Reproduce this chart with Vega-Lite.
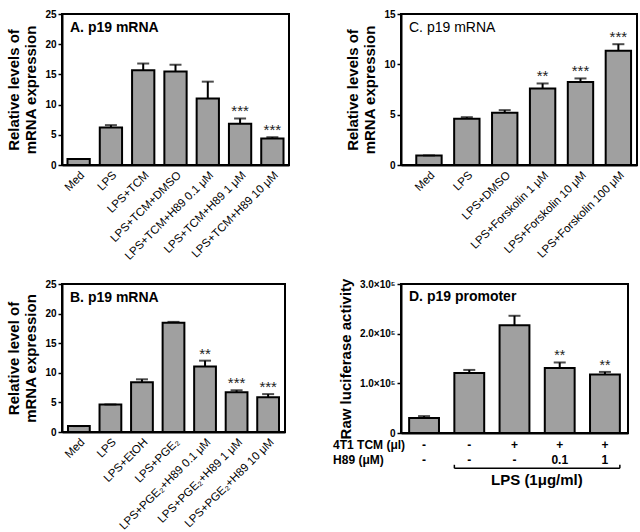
{
  "$schema": "https://vega.github.io/schema/vega-lite/v6.json",
  "background": "white",
  "padding": {"left": 5, "top": 8, "right": 5, "bottom": 0},
  "columns": 2,
  "spacing": {"row": 14, "column": 42},
  "config": {
    "font": "Liberation Sans",
    "view": {"stroke": "black", "strokeWidth": 2},
    "axis": {"grid": false, "domainColor": "black", "domainWidth": 2, "tickColor": "black", "tickWidth": 1.5, "labelColor": "black", "titleColor": "black", "labelFont": "Liberation Sans", "titleFont": "Liberation Sans", "labelOverlap": false, "labelFlush": false},
    "axisY": {"labelFontWeight": "bold", "labelFontSize": 10, "tickSize": 4, "titleFontSize": 15, "titleFontWeight": "bold", "titlePadding": 6, "labelPadding": 2},
    "axisX": {"labelAngle": -45, "labelFontSize": 11.5, "ticks": false, "title": null, "labelPadding": 4}
  },
  "datasets": {
    "A": [
      {"g": "Med", "v": 1.0, "err": 1.0, "sig": ""},
      {"g": "LPS", "v": 6.2, "err": 6.6, "sig": ""},
      {"g": "LPS+TCM", "v": 15.7, "err": 16.8, "sig": ""},
      {"g": "LPS+TCM+DMSO", "v": 15.5, "err": 16.6, "sig": ""},
      {"g": "LPS+TCM+H89 0.1 μM", "v": 11.0, "err": 13.8, "sig": ""},
      {"g": "LPS+TCM+H89 1 μM", "v": 6.85, "err": 7.7, "sig": "***"},
      {"g": "LPS+TCM+H89 10 μM", "v": 4.4, "err": 4.6, "sig": "***"}
    ],
    "C": [
      {"g": "Med", "v": 0.95, "err": 0.95, "sig": ""},
      {"g": "LPS", "v": 4.6, "err": 4.75, "sig": ""},
      {"g": "LPS+DMSO", "v": 5.2, "err": 5.45, "sig": ""},
      {"g": "LPS+Forskolin 1 μM", "v": 7.6, "err": 8.1, "sig": "**"},
      {"g": "LPS+Forskolin 10 μM", "v": 8.25, "err": 8.6, "sig": "***"},
      {"g": "LPS+Forskolin 100 μM", "v": 11.35, "err": 12.0, "sig": "***"}
    ],
    "B": [
      {"g": "Med", "v": 1.0, "err": 1.0, "sig": ""},
      {"g": "LPS", "v": 4.65, "err": 4.65, "sig": ""},
      {"g": "LPS+EtOH", "v": 8.4, "err": 8.9, "sig": ""},
      {"g": "LPS+PGE₂", "v": 18.45, "err": 18.6, "sig": ""},
      {"g": "LPS+PGE₂+H89 0.1 μM", "v": 11.05, "err": 12.05, "sig": "**"},
      {"g": "LPS+PGE₂+H89 1 μM", "v": 6.7, "err": 7.05, "sig": "***"},
      {"g": "LPS+PGE₂+H89 10 μM", "v": 5.85, "err": 6.4, "sig": "***"}
    ],
    "D": [
      {"g": "1", "v": 30000, "err": 34000, "sig": "", "tcm": "-", "h89": "-"},
      {"g": "2", "v": 121000, "err": 127000, "sig": "", "tcm": "-", "h89": "-"},
      {"g": "3", "v": 217000, "err": 236000, "sig": "", "tcm": "+", "h89": "-"},
      {"g": "4", "v": 131000, "err": 142000, "sig": "**", "tcm": "+", "h89": "0.1"},
      {"g": "5", "v": 118000, "err": 123000, "sig": "**", "tcm": "+", "h89": "1"}
    ]
  },
  "concat": [
    {
      "width": 227, "height": 151,
      "data": {"name": "A"},
      "title": {"text": "A. p19 mRNA", "anchor": "start", "frame": "group", "dx": 8, "dy": 30, "fontSize": 14, "fontWeight": "bold", "color": "black"},
      "encoding": {
        "x": {"field": "g", "type": "nominal", "sort": null, "scale": {"paddingInner": 0.31, "paddingOuter": 0.17}, "axis": {"title": null}},
        "y": {"field": "v", "type": "quantitative", "scale": {"domain": [0, 25], "nice": false}, "axis": {"values": [0, 5, 10, 15, 20, 25], "tickCount": 6, "title": ["Relative levels of", "mRNA expression"]}}
      },
      "layer": [
        {"mark": {"type": "bar", "fill": "#a0a0a0", "stroke": "black", "strokeWidth": 2}},
        {"mark": {"type": "rule", "strokeWidth": 2, "color": "black"}, "encoding": {"y2": {"field": "err"}}},
        {"mark": {"type": "tick", "thickness": 2, "size": 12, "color": "black"}, "encoding": {"y": {"field": "err", "type": "quantitative", "axis": {"values": [0, 5, 10, 15, 20, 25], "tickCount": 6, "title": ["Relative levels of", "mRNA expression"]}}}},
        {"mark": {"type": "text", "dy": -2, "fontSize": 15, "baseline": "alphabetic", "color": "#222"}, "encoding": {"y": {"field": "err", "type": "quantitative", "axis": {"values": [0, 5, 10, 15, 20, 25], "tickCount": 6, "title": ["Relative levels of", "mRNA expression"]}}, "text": {"field": "sig"}}}
      ]
    },
    {
      "width": 236, "height": 151,
      "data": {"name": "C"},
      "title": {"text": "C. p19 mRNA", "anchor": "start", "frame": "group", "dx": 8, "dy": 30, "fontSize": 14, "fontWeight": "normal", "color": "black"},
      "encoding": {
        "x": {"field": "g", "type": "nominal", "sort": null, "scale": {"paddingInner": 0.33, "paddingOuter": 0.28, "align": 0.72}, "axis": {"title": null}},
        "y": {"field": "v", "type": "quantitative", "scale": {"domain": [0, 15], "nice": false}, "axis": {"values": [0, 5, 10, 15], "title": ["Relative levels of", "mRNA expression"]}}
      },
      "layer": [
        {"mark": {"type": "bar", "fill": "#a0a0a0", "stroke": "black", "strokeWidth": 2}},
        {"mark": {"type": "rule", "strokeWidth": 2, "color": "black"}, "encoding": {"y2": {"field": "err"}}},
        {"mark": {"type": "tick", "thickness": 2, "size": 12, "color": "black"}, "encoding": {"y": {"field": "err", "type": "quantitative", "axis": {"values": [0, 5, 10, 15], "title": ["Relative levels of", "mRNA expression"]}}}},
        {"mark": {"type": "text", "dy": -2, "fontSize": 15, "baseline": "alphabetic", "color": "#222"}, "encoding": {"y": {"field": "err", "type": "quantitative", "axis": {"values": [0, 5, 10, 15], "title": ["Relative levels of", "mRNA expression"]}}, "text": {"field": "sig"}}}
      ]
    },
    {
      "width": 223, "height": 148,
      "data": {"name": "B"},
      "title": {"text": "B. p19 mRNA", "anchor": "start", "frame": "group", "dx": 8, "dy": 30, "fontSize": 14, "fontWeight": "bold", "color": "black"},
      "encoding": {
        "x": {"field": "g", "type": "nominal", "sort": null, "scale": {"paddingInner": 0.31, "paddingOuter": 0.19}, "axis": {"title": null}},
        "y": {"field": "v", "type": "quantitative", "scale": {"domain": [0, 25], "nice": false}, "axis": {"values": [0, 5, 10, 15, 20, 25], "tickCount": 6, "title": ["Relative level of", "mRNA expression"]}}
      },
      "layer": [
        {"mark": {"type": "bar", "fill": "#a0a0a0", "stroke": "black", "strokeWidth": 2}},
        {"mark": {"type": "rule", "strokeWidth": 2, "color": "black"}, "encoding": {"y2": {"field": "err"}}},
        {"mark": {"type": "tick", "thickness": 2, "size": 12, "color": "black"}, "encoding": {"y": {"field": "err", "type": "quantitative", "axis": {"values": [0, 5, 10, 15, 20, 25], "tickCount": 6, "title": ["Relative level of", "mRNA expression"]}}}},
        {"mark": {"type": "text", "dy": -2, "fontSize": 15, "baseline": "alphabetic", "color": "#222"}, "encoding": {"y": {"field": "err", "type": "quantitative", "axis": {"values": [0, 5, 10, 15, 20, 25], "tickCount": 6, "title": ["Relative level of", "mRNA expression"]}}, "text": {"field": "sig"}}}
      ]
    },
    {
      "width": 227, "height": 149,
      "data": {"name": "D"},
      "title": {"text": "D. p19 promoter", "anchor": "start", "frame": "group", "dx": 8, "dy": 30, "fontSize": 14, "fontWeight": "bold", "color": "black"},
      "encoding": {
        "x": {"field": "g", "type": "nominal", "sort": null, "scale": {"paddingInner": 0.34, "paddingOuter": 0.18}, "axis": {"title": null, "labels": false, "ticks": false}}
      },
      "layer": [
        {"mark": {"type": "bar", "fill": "#a0a0a0", "stroke": "black", "strokeWidth": 2},
         "encoding": {"y": {"field": "v", "type": "quantitative", "scale": {"domain": [0, 300000], "nice": false}, "axis": {"values": [0, 100000, 200000, 300000], "labelExpr": "datum.value == 0 ? '0' : format(datum.value / 100000, '.1f') + '×10⁵'", "title": "Raw luciferase activity"}}}},
        {"mark": {"type": "rule", "strokeWidth": 2, "color": "black"}, "encoding": {"y": {"field": "v", "type": "quantitative", "axis": {"values": [0, 100000, 200000, 300000], "labelExpr": "datum.value == 0 ? '0' : format(datum.value / 100000, '.1f') + '×10⁵'", "title": "Raw luciferase activity"}}, "y2": {"field": "err"}}},
        {"mark": {"type": "tick", "thickness": 2, "size": 12, "color": "black"}, "encoding": {"y": {"field": "err", "type": "quantitative", "axis": {"values": [0, 100000, 200000, 300000], "labelExpr": "datum.value == 0 ? '0' : format(datum.value / 100000, '.1f') + '×10⁵'", "title": "Raw luciferase activity"}}}},
        {"mark": {"type": "text", "dy": -2, "fontSize": 14, "baseline": "alphabetic", "color": "#222"}, "encoding": {"y": {"field": "err", "type": "quantitative", "axis": {"values": [0, 100000, 200000, 300000], "labelExpr": "datum.value == 0 ? '0' : format(datum.value / 100000, '.1f') + '×10⁵'", "title": "Raw luciferase activity"}}, "text": {"field": "sig"}}},
        {"mark": {"type": "text", "fontSize": 12, "fontWeight": "bold", "color": "black", "baseline": "middle"}, "encoding": {"y": {"datum": -24000}, "text": {"field": "tcm"}}},
        {"mark": {"type": "text", "fontSize": 12, "fontWeight": "bold", "color": "black", "baseline": "middle"}, "encoding": {"y": {"datum": -54000}, "text": {"field": "h89"}}},
        {"data": {"values": [{}]}, "mark": {"type": "text", "text": "4T1 TCM (μl)", "align": "left", "dx": -91, "fontSize": 12, "fontWeight": "bold", "color": "black", "baseline": "middle"}, "encoding": {"x": {"datum": "1"}, "y": {"datum": -24000}}},
        {"data": {"values": [{}]}, "mark": {"type": "text", "text": "H89 (μM)", "align": "left", "dx": -91, "fontSize": 12, "fontWeight": "bold", "color": "black", "baseline": "middle"}, "encoding": {"x": {"datum": "1"}, "y": {"datum": -54000}}},
        {"data": {"values": [{}]}, "mark": {"type": "rule", "strokeWidth": 1.5, "color": "black"}, "encoding": {"x": {"datum": "2", "bandPosition": 0}, "x2": {"datum": "5", "bandPosition": 1}, "y": {"datum": -71000}}},
        {"data": {"values": [{}]}, "mark": {"type": "rule", "strokeWidth": 1.5, "color": "black"}, "encoding": {"x": {"datum": "2", "bandPosition": 0}, "y": {"datum": -71000}, "y2": {"datum": -64000}}},
        {"data": {"values": [{}]}, "mark": {"type": "rule", "strokeWidth": 1.5, "color": "black"}, "encoding": {"x": {"datum": "5", "bandPosition": 1}, "y": {"datum": -71000}, "y2": {"datum": -64000}}},
        {"data": {"values": [{}]}, "mark": {"type": "text", "text": "LPS (1μg/ml)", "fontSize": 15, "fontWeight": "bold", "color": "black", "baseline": "middle"}, "encoding": {"x": {"datum": "3", "bandPosition": 1.25}, "y": {"datum": -94000}}}
      ]
    }
  ]
}
